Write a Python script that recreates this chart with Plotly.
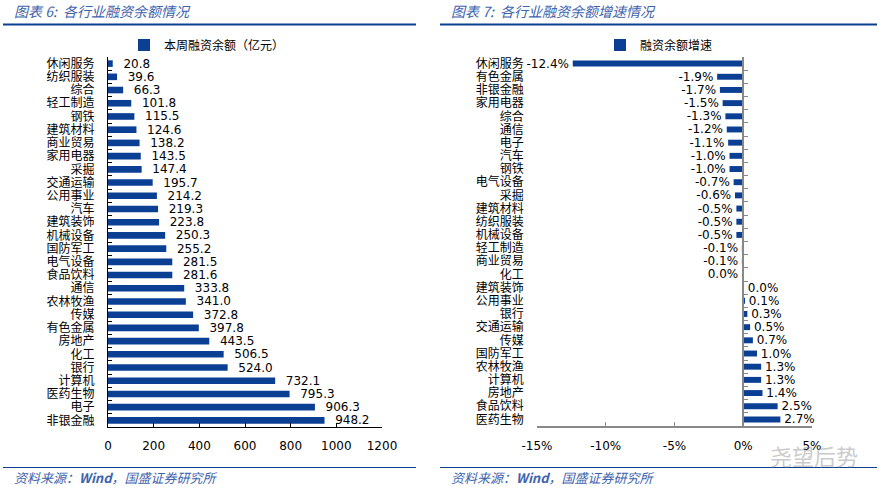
import plotly.graph_objects as go

W, H = 884, 492

# ---- data ----
left_cats = ["休闲服务", "纺织服装", "综合", "轻工制造", "钢铁", "建筑材料", "商业贸易",
             "家用电器", "采掘", "交通运输", "公用事业", "汽车", "建筑装饰", "机械设备",
             "国防军工", "电气设备", "食品饮料", "通信", "农林牧渔", "传媒", "有色金属",
             "房地产", "化工", "银行", "计算机", "医药生物", "电子", "非银金融"]
left_vals = [20.8, 39.6, 66.3, 101.8, 115.5, 124.6, 138.2, 143.5, 147.4, 195.7, 214.2,
             219.3, 223.8, 250.3, 255.2, 281.5, 281.6, 333.8, 341.0, 372.8, 397.8, 443.5,
             506.5, 524.0, 732.1, 795.3, 906.3, 948.2]
left_name = "本周融资余额（亿元）"
left_ticks = [0, 200, 400, 600, 800, 1000, 1200]

right_cats = ["休闲服务", "有色金属", "非银金融", "家用电器", "综合", "通信", "电子", "汽车",
              "钢铁", "电气设备", "采掘", "建筑材料", "纺织服装", "机械设备", "轻工制造",
              "商业贸易", "化工", "建筑装饰", "公用事业", "银行", "交通运输", "传媒",
              "国防军工", "农林牧渔", "计算机", "房地产", "食品饮料", "医药生物"]
right_vals = [-12.4, -1.9, -1.7, -1.5, -1.3, -1.2, -1.1, -1.0, -1.0, -0.7, -0.6, -0.5,
              -0.5, -0.5, -0.1, -0.1, -0.02, 0.02, 0.1, 0.3, 0.5, 0.7, 1.0, 1.3, 1.3,
              1.4, 2.5, 2.7]
right_name = "融资余额增速"
right_ticks = [-15, -10, -5, 0, 5]
right_ticklabels = ["-15%", "-10%", "-5%", "0%", "5%"]

title_left = "图表 6:  各行业融资余额情况"
title_right = "图表 7:  各行业融资余额增速情况"
source_text = "资料来源：<b>Wind</b>，国盛证券研究所"

# ---- style ----
BAR = "#0B3F94"
TITLE_BLUE = "#3E63AD"
LINE_BLUE = "#0B3F94"
CJK = "Noto Sans CJK SC"
NUM = "DejaVu Sans"

def px_x(x):
    return x / W

def px_y(y):
    return 1 - y / H

left_text = ["\u00a0\u00a0" + f"{v:.1f}" for v in left_vals]
right_text = []
for v in right_vals:
    s = f"{v:.1f}%"
    if s == "-0.0%":
        s = "0.0%"
    right_text.append(("\u00a0" + s) if v >= 0 else (s + "\u00a0"))

fig = go.Figure()

fig.add_trace(go.Bar(
    x=left_vals, y=left_cats, orientation="h", name=left_name,
    marker=dict(color=BAR, line=dict(width=0)),
    width=0.5,
    text=left_text, textposition="outside", cliponaxis=False, constraintext="none",
    textfont=dict(family=NUM, size=12, color="#000"),
    xaxis="x", yaxis="y", legend="legend", hoverinfo="x+y",
))

fig.add_trace(go.Bar(
    x=right_vals, y=right_cats, orientation="h", name=right_name,
    marker=dict(color=BAR, line=dict(width=0)),
    width=0.45,
    text=right_text, textposition="outside", cliponaxis=False, constraintext="none",
    textfont=dict(family=NUM, size=12, color="#000"),
    xaxis="x2", yaxis="y2", legend="legend2", hoverinfo="x+y",
))

fig.update_layout(
    width=W, height=H,
    margin=dict(l=0, r=0, t=0, b=0, autoexpand=False),
    paper_bgcolor="white", plot_bgcolor="white",
    font=dict(family=CJK, size=12, color="#000"),
    xaxis=dict(
        domain=[px_x(108), px_x(382)], anchor="y", automargin=False,
        range=[0, 1200], tickvals=left_ticks,
        showline=True, linecolor="#000", linewidth=1,
        ticks="inside", ticklen=4, tickcolor="#000",
        showgrid=False, zeroline=False,
        tickfont=dict(family=NUM, size=12, color="#000"),
        ticklabelstandoff=8,
    ),
    yaxis=dict(
        domain=[px_y(427), px_y(57)], anchor="x", automargin=False,
        type="category", categoryorder="array", categoryarray=left_cats,
        autorange="reversed", tickmode="linear", tick0=0, dtick=1,
        showline=True, linecolor="#000", linewidth=1,
        ticks="inside", ticklen=4, tickcolor="#000", tickson="boundaries",
        showgrid=False, zeroline=False,
        tickfont=dict(family=CJK, size=12, color="#000"),
        ticklabelstandoff=10,
    ),
    xaxis2=dict(
        domain=[px_x(537), px_x(812)], anchor="y2", automargin=False,
        range=[-15, 5], tickvals=right_ticks, ticktext=right_ticklabels,
        showline=True, linecolor="#888", linewidth=1.5,
        ticks="inside", ticklen=4, tickcolor="#888",
        showgrid=False, zeroline=False,
        tickfont=dict(family=NUM, size=12, color="#000"),
        ticklabelstandoff=8,
    ),
    yaxis2=dict(
        domain=[px_y(426), px_y(57)], anchor="free", position=px_x(743), automargin=False,
        type="category", categoryorder="array", categoryarray=right_cats,
        autorange="reversed", tickmode="linear", tick0=0, dtick=1,
        showline=True, linecolor="#888", linewidth=1.5,
        ticks="inside", ticklen=4, tickcolor="#888", tickson="boundaries",
        showgrid=False, zeroline=False,
        tickfont=dict(family=CJK, size=12, color="#000"),
        ticklabelstandoff=216,
    ),
    legend=dict(
        x=px_x(124), y=px_y(45), xanchor="left", yanchor="middle",
        bgcolor="rgba(0,0,0,0)", font=dict(family=CJK, size=12, color="#000"),
        itemwidth=30,
    ),
    legend2=dict(
        x=px_x(600), y=px_y(45), xanchor="left", yanchor="middle",
        bgcolor="rgba(0,0,0,0)", font=dict(family=CJK, size=12, color="#000"),
        itemwidth=30,
    ),
    showlegend=True,
)

# header / footer rules
for x0, x1 in [(3, 416), (440, 877)]:
    fig.add_shape(type="line", xref="paper", yref="paper",
                  x0=px_x(x0), x1=px_x(x1), y0=px_y(24.5), y1=px_y(24.5),
                  line=dict(color=LINE_BLUE, width=2.2))
    fig.add_shape(type="line", xref="paper", yref="paper",
                  x0=px_x(x0), x1=px_x(x1), y0=px_y(467.5), y1=px_y(467.5),
                  line=dict(color=LINE_BLUE, width=1))

for x0, t in [(12, title_left), (449, title_right)]:
    fig.add_annotation(xref="paper", yref="paper", x=px_x(x0), y=px_y(11),
                       xanchor="left", yanchor="middle", showarrow=False, text=t,
                       font=dict(family=CJK, size=14, color=TITLE_BLUE, style="italic"))
    fig.add_annotation(xref="paper", yref="paper", x=px_x(x0), y=px_y(477),
                       xanchor="left", yanchor="middle", showarrow=False, text=source_text,
                       font=dict(family=CJK, size=13, color=TITLE_BLUE, style="italic"))

# watermark
fig.add_annotation(xref="paper", yref="paper", x=px_x(768), y=px_y(455),
                   xanchor="left", yanchor="middle", showarrow=False, text="尧望后势",
                   font=dict(family=CJK, size=22, color="rgba(150,150,150,0.5)"))

fig.write_html("out.html")
